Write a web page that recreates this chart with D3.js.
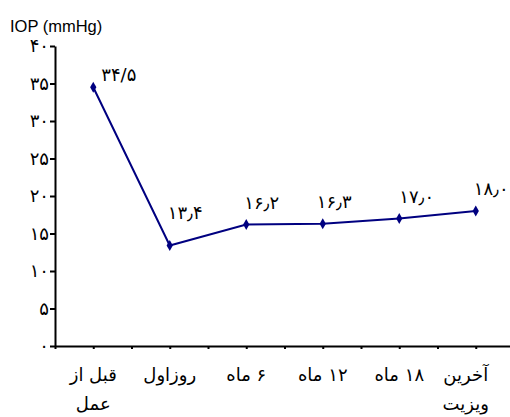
<!DOCTYPE html>
<html><head><meta charset="utf-8">
<script src="https://cdn.jsdelivr.net/npm/d3@7"></script>
<style>body{margin:0;background:#fff}svg{display:block}</style>
</head><body>
<svg id="c" width="510" height="417"></svg>
<script>
const categories = [["قبل از","عمل"],["روزاول"],["۶ ماه"],["۱۲ ماه"],["۱۸ ماه"],["آخرین","ویزیت"]];
const values = [34.5, 13.4, 16.2, 16.3, 17.0, 18.0];
const valueLabels = ["۳۴/۵","۱۳٫۴","۱۶٫۲","۱۶٫۳","۱۷٫۰","۱۸٫۰"];
const yTicks = [0,5,10,15,20,25,30,35,40];
const yTickLabels = ["۰","۵","۱۰","۱۵","۲۰","۲۵","۳۰","۳۵","۴۰"];
const yTitle = "IOP (mmHg)";

const svg = d3.select("#c");
const fa = "'DejaVu Sans', sans-serif";
const fs = 18;
const x = d3.scaleLinear().domain([0, categories.length]).range([55, 514]);
const y = d3.scaleLinear().domain([0, 40]).range([346, 46]);

// y axis
const ya = svg.append("g").attr("transform","translate(55,0)")
  .call(d3.axisLeft(y).tickValues(yTicks).tickSize(5).tickSizeOuter(0)
    .tickFormat((d,i)=>yTickLabels[i]));
ya.select(".domain").attr("stroke","#000").attr("stroke-width",2);
ya.selectAll(".tick line").attr("stroke","#000").attr("stroke-width",2);
ya.selectAll(".tick text").attr("font-family",fa).attr("font-size",fs).attr("fill","#000").attr("x",-6);

// x axis
const xa = svg.append("g").attr("transform","translate(0,346)")
  .call(d3.axisBottom(x).tickValues(d3.range(0, categories.length+0.01, 0.5)).tickSize(3).tickSizeOuter(0).tickFormat(""));
xa.select(".domain").attr("stroke","#000").attr("stroke-width",2);
xa.selectAll(".tick line").attr("stroke","#000").attr("stroke-width",2);

// category labels
categories.forEach((lines,i)=>{
  const cx = x(i+0.5) - (i===categories.length-1 ? 10 : 0);
  const t = svg.append("text").attr("x", cx).attr("y", 381)
    .attr("text-anchor","middle").attr("direction","rtl")
    .attr("font-family",fa).attr("font-size",fs).attr("fill","#000");
  lines.forEach((l,j)=>{
    t.append("tspan").attr("x", cx).attr("dy", j===0?0:29).text(l);
  });
});

// title
svg.append("text").attr("x",10).attr("y",32).attr("font-family","'Liberation Sans', Arial, sans-serif")
  .attr("font-size",16.5).attr("fill","#000").text(yTitle);

// line
const line = d3.line().x((d,i)=>x(i+0.5)).y(d=>y(d));
svg.append("path").datum(values).attr("d",line).attr("fill","none")
  .attr("stroke","#000080").attr("stroke-width",2);
svg.selectAll(".pt").data(values).join("path").attr("class","pt")
  .attr("d", d3.symbol().type(d3.symbolDiamond).size(34))
  .attr("transform",(d,i)=>`translate(${x(i+0.5)},${y(d)})`)
  .attr("fill","#000080");

// value labels
const dxs = [8,-2,-2,-6,0,-2], dys = [-6,-27,-16,-16,-16,-16];
svg.selectAll(".vl").data(values).join("text").attr("class","vl")
  .attr("x",(d,i)=> x(i+0.5) + dxs[i])
  .attr("y",(d,i)=> y(d) + dys[i])
  .attr("font-family",fa).attr("font-size",fs).attr("fill","#000")
  .text((d,i)=>valueLabels[i]);
</script>
</body></html>
